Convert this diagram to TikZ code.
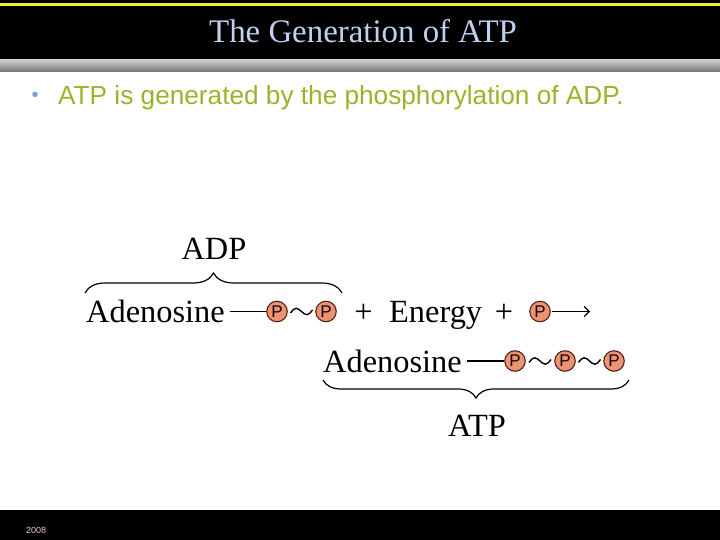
\documentclass[tikz,border=0pt]{standalone}
\usepackage{fontspec}
\setmainfont{Liberation Serif}
\newfontfamily\arialf{Liberation Sans}
\usetikzlibrary{decorations.pathreplacing,arrows.meta,calc}
\definecolor{titleblue}{RGB}{190,210,240}
\definecolor{bulletgreen}{RGB}{150,182,42}
\definecolor{bulletdot}{RGB}{127,159,208}
\definecolor{phosfill}{RGB}{238,146,116}
\definecolor{phosdraw}{RGB}{80,35,20}
\definecolor{yearpink}{RGB}{240,200,200}
\definecolor{barline}{RGB}{240,240,60}
\tikzset{
  chem/.style={inner sep=0pt, font=\fontsize{32.5}{34}\selectfont, text=black},
  phos/.style={circle, draw=phosdraw, line width=1.1bp, fill=phosfill, minimum size=20.5bp, inner sep=0pt,
    font=\arialf\fontsize{17}{17}\selectfont, text=black!85!phosdraw},
  bond/.style={line width=1.4bp, black},
  wave/.style={line width=1.4bp, black},
  bracestyle/.style={decorate, line width=1.2bp, black},
  pics/tilde/.style={code={\draw[wave] (-11,1.5) sin (-5.5,-3.2) cos (0,0) sin (5.5,3.2) cos (11,-1.5);}}
}
\begin{document}
\begin{tikzpicture}[x=1bp,y=-1bp]
\useasboundingbox (0,0) rectangle (720,540);
% header
\fill[black] (0,0) rectangle (720,60);
\fill[barline] (0,3) rectangle (720,6);
\shade[top color=black!20, bottom color=black!55] (0,60) rectangle (720,72);
\node[anchor=base, inner sep=0pt, text=titleblue, font=\fontsize{33}{35}\selectfont] (title) at (363,43) {The Generation of ATP};
% footer
\fill[black] (0,510) rectangle (720,540);
\node[anchor=base west, inner sep=0pt, text=yearpink, font=\arialf\fontsize{9}{9}\selectfont] (year) at (26,533) {2008};
% bullet
\node[inner sep=0pt, text=bulletdot, font=\arialf\fontsize{20}{20}\selectfont] (dot) at (35,97) {•};
\node[anchor=base west, inner sep=0pt, text=bulletgreen, font=\arialf\fontsize{26.3}{27}\selectfont] (btext) at (58,105) {ATP is generated by the phosphorylation of ADP.};
% row 1
\node[chem, anchor=base west] (ad1) at (86,322) {Adenosine};
\node[phos] (p1) at (277,311.5) {P};
\node[phos] (p2) at (326,311.5) {P};
\draw[bond] ($(ad1.east |- p1)+(5,0)$) -- (p1.west);
\pic at ($(p1)!0.5!(p2)$) {tilde};
\node[chem, anchor=base] (plus1) at (363.5,322) {+};
\node[chem, anchor=base west] (energy) at (389,322) {Energy};
\node[chem, anchor=base] (plus2) at (504,322) {+};
\node[phos] (p3) at (540,311.5) {P};
\coordinate (arrowend) at (590,311.5);
\draw[line width=1.2bp, -{Straight Barb[length=5bp,width=10bp]}] ($(p3.east)+(1,0)$) -- (arrowend);
% ADP brace and label
\coordinate (b1l) at (85,293);
\coordinate (b1r) at (342,293);
\draw[bracestyle, decoration={brace, amplitude=20bp}] (b1l) -- (b1r);
\node[chem, anchor=base] (adp) at (214,260) {ADP};
% row 2
\node[chem, anchor=base west] (ad2) at (323,372) {Adenosine};
\node[phos] (q1) at (515,361) {P};
\node[phos] (q2) at (565,361) {P};
\node[phos] (q3) at (614,361) {P};
\draw[bond] ($(ad2.east |- q1)+(5,0)$) -- (q1.west);
\pic at ($(q1)!0.5!(q2)$) {tilde};
\pic at ($(q2)!0.5!(q3)$) {tilde};
% ATP brace and label
\coordinate (b2l) at (323,380);
\coordinate (b2r) at (629,380);
\draw[bracestyle, decoration={brace, mirror, amplitude=18bp}] (b2l) -- (b2r);
\node[chem, anchor=base] (atp) at (477,436) {ATP};
\end{tikzpicture}
\end{document}
